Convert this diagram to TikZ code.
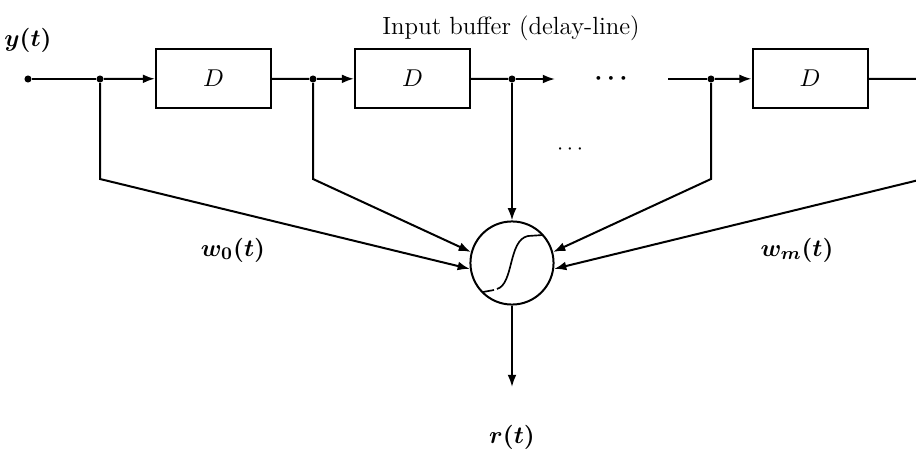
\documentclass[tikz,border=0pt]{standalone}
\usepackage{bm}
\usetikzlibrary{arrows.meta}

\tikzset{
  delay/.style={draw, line width=0.9pt, minimum width=51.75pt, minimum height=26.5pt, inner sep=0pt},
  neuron/.style={draw, circle, line width=0.9pt, minimum size=37.4pt, inner sep=0pt},
  sig/.style={line width=0.9pt, -{Latex[length=5.5pt,width=4pt]}},
  wire/.style={line width=0.9pt},
  tap/.style={circle, fill, inner sep=0pt, minimum size=3.2pt},
}

\begin{document}
\begin{tikzpicture}[x=0.45pt,y=-0.45pt,
  every node/.append style={font=\fontsize{11.2}{13.5}\selectfont}]
\useasboundingbox (0,0) rectangle (916,452);
% delay line
\node[tap] (in) at (28,79) {};
\node[tap] (t0) at (100,79) {};
\node[delay] (d1) at (213.5,78.5) {$D$};
\node[tap] (t1) at (313,79) {};
\node[delay] (d2) at (412.5,78.5) {$D$};
\node[tap] (t2) at (512,79) {};
\coordinate (c1) at (555,79);
\node (gap) at (611,79) {$\bm{\cdots}$};
\coordinate (c2) at (668,79);
\node[tap] (t3) at (711,79) {};
\node[delay] (d3) at (810,78.5) {$D$};
\coordinate (tm) at (923,79);
% corners of the weight lines
\coordinate (b0) at (100,179);
\coordinate (b1) at (313,179);
\coordinate (b3) at (711,179);
\coordinate (bm) at (923,179);
% the neuron and its output
\node[neuron] (f) at (512,263) {};
\coordinate (o) at (512,387);
\node (r) at (512,437) {$\bm{r(t)}$};
% labels
\node (ylab) at (28,40) {$\bm{y(t)}$};
\node (buf) at (511,28) {Input buffer (delay-line)};
\node (w0) at (233,250) {$\bm{w_0(t)}$};
\node (wm) at (797,250) {$\bm{w_m(t)}$};
\node[font=\normalsize] (mgap) at (570,150) {$\cdots$};

\draw[wire] (in) -- (t0);
\draw[sig] (t0) -- (d1);
\draw[wire] (d1) -- (t1);
\draw[sig] (t1) -- (d2);
\draw[wire] (d2) -- (t2);
\draw[sig] (t2) -- (c1);
\draw[wire] (c2) -- (t3);
\draw[sig] (t3) -- (d3);

\draw[sig] (t0) -- (b0) -- (f.188);
\draw[sig] (t1) -- (b1) -- (f.165);
\draw[sig] (t2) -- (f);
\draw[sig] (t3) -- (b3) -- (f.15);
\draw[sig] (d3) -- (tm) -- (bm) -- (f.352);
\draw[sig] (f) -- (o);

% sigmoid inside the neuron
\draw[line width=0.75pt] (483,292) -- (494,290);
\draw[line width=0.75pt] (497,289) .. controls (514,284) and (508,240) .. (528,236) -- (543,235);
\end{tikzpicture}
\end{document}
